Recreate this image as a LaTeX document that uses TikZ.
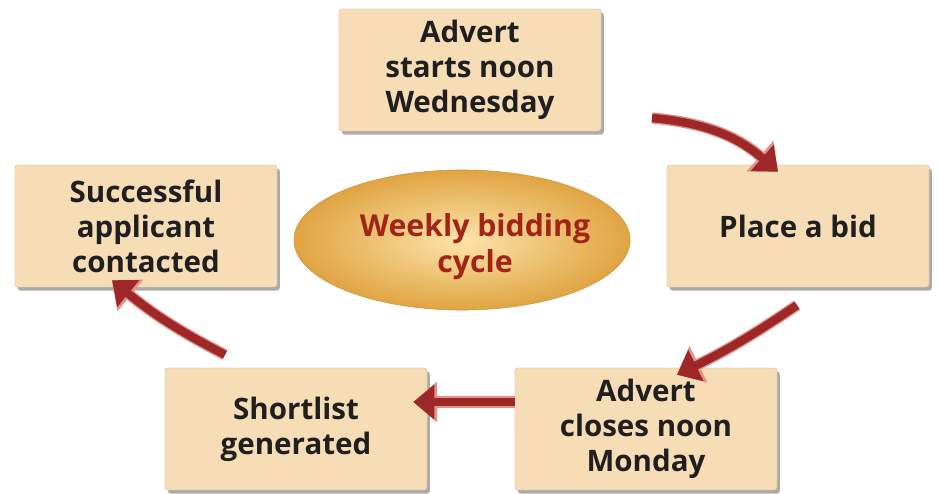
\documentclass[tikz,border=0pt]{standalone}
\usepackage{fontspec}
\setmainfont{Open Sans}
\usetikzlibrary{shapes.geometric,shadows,arrows.meta}

\definecolor{boxtan}{RGB}{246,221,182}
\definecolor{ovalin}{RGB}{252,228,170}
\definecolor{ovalout}{RGB}{224,164,66}
\definecolor{ovaltext}{RGB}{162,36,24}
\definecolor{arrowred}{RGB}{158,40,40}
\definecolor{arrowedge}{RGB}{228,146,136}

\tikzset{
  stepbox/.style={rectangle,rounded corners=2pt,fill=boxtan,draw=boxtan!85!black,line width=.3pt,
    minimum width=6.55cm,minimum height=3.05cm,align=center,inner sep=0pt,
    font=\bfseries\fontsize{21}{25}\selectfont,text=black!88,
    drop shadow={shadow xshift=2pt,shadow yshift=-2.5pt,opacity=.55,fill=black!60}},
  cyclearrow/.style={draw=arrowred,line width=6pt,
    -{Triangle[length=15pt,width=24pt]},
    preaction={draw=arrowedge,line width=8pt,-{Triangle[length=17pt,width=28pt]}}}
}

\begin{document}
\begin{tikzpicture}[x=0.025cm,y=-0.025cm]
  \useasboundingbox (0,0) rectangle (939,493);

  % steps of the cycle
  \node[stepbox] (advert) at (470,70) {Advert\\starts noon\\Wednesday};
  \node[stepbox] (bid) at (798,226) {Place a bid};
  \node[stepbox] (closes) at (646,429) {Advert\\closes noon\\Monday};
  \node[stepbox] (shortlist) at (296,429) {Shortlist\\generated};
  \node[stepbox] (contacted) at (146,226) {Successful\\applicant\\contacted};

  % centre oval
  \node[ellipse,minimum width=8.4cm,minimum height=3.5cm,inner sep=0pt,
        inner color=ovalin,outer color=ovalout,draw=ovalout!90!black,line width=.4pt]
        (cycle) at (462,240) {};
  \node[align=center,font=\bfseries\fontsize{21.5}{25.5}\selectfont,text=ovaltext]
        (cycletext) at (475,247) {Weekly bidding\\cycle};

  % arrows between steps
  \draw[cyclearrow] ([shift={(182,48)}]advert.center) to[bend left=18] ([shift={(-20,7)}]bid.north);
  \draw[cyclearrow] ([shift={(-1,18)}]bid.south) to[bend left=4] ([shift={(31,7)}]closes.north);
  \draw[cyclearrow] ([shift={(0,-27)}]closes.west) -- ([shift={(-14,-27)}]shortlist.east);
  \draw[cyclearrow] ([shift={(-71,-13)}]shortlist.north) to[bend left=6] ([shift={(-34,-7)}]contacted.south);
\end{tikzpicture}
\end{document}
